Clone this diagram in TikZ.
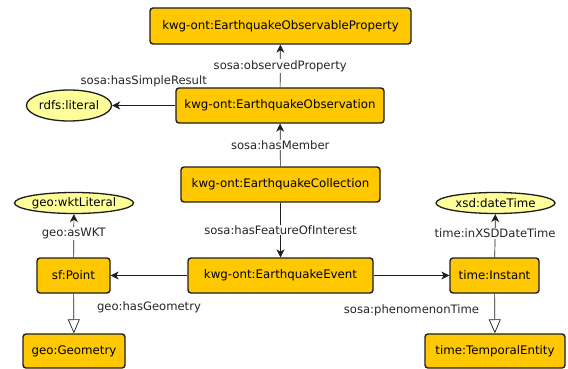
\documentclass[tikz,border=0pt]{standalone}
\usepackage{fontspec}
\setmainfont{DejaVu Sans}
\usetikzlibrary{arrows.meta,shapes.geometric}
\definecolor{cls}{RGB}{255,200,0}
\definecolor{lit}{RGB}{255,255,153}
\definecolor{bord}{RGB}{30,30,30}
\tikzset{
  cbox/.style={draw=bord,line width=1.4pt,rounded corners=3pt,fill=cls,inner sep=0pt,font=\fontsize{11.8}{13}\selectfont,text=black},
  lbox/.style={ellipse,draw=bord,line width=1.3pt,fill=lit,inner sep=0pt,font=\fontsize{11.8}{13}\selectfont},
  rel/.style={draw=bord,line width=0.7pt,-{Stealth[length=8pt,width=8pt,inset=2.5pt]}},
  sub/.style={draw=bord,line width=0.7pt,-{Triangle[open,length=14pt,width=12pt,fill=white]}},
  lab/.style={fill=white,inner sep=1pt,font=\fontsize{11.6}{13}\selectfont,text=black!85}
}
\begin{document}
\begin{tikzpicture}[x=1pt,y=-1pt]
\useasboundingbox[fill=white] (0,0) rectangle (568,369);
\node[cbox,minimum width=261,minimum height=36] (eop) at (280.5,26) {kwg-ont:EarthquakeObservableProperty};
\node[cbox,minimum width=208,minimum height=35] (obs) at (280,105.5) {kwg-ont:EarthquakeObservation};
\node[cbox,minimum width=199,minimum height=35] (col) at (280.5,184.5) {kwg-ont:EarthquakeCollection};
\node[cbox,minimum width=185,minimum height=35] (ev) at (280.5,275.5) {kwg-ont:EarthquakeEvent};
\node[cbox,minimum width=73,minimum height=35] (pt) at (73.5,275.5) {sf:Point};
\node[cbox,minimum width=102,minimum height=34] (geom) at (74,351) {geo:Geometry};
\node[cbox,minimum width=89,minimum height=35] (inst) at (494.5,275.5) {time:Instant};
\node[cbox,minimum width=140,minimum height=34] (te) at (495,351) {time:TemporalEntity};
\node[lbox,minimum width=82,minimum height=31] (rl) at (69,105.5) {rdfs:literal};
\node[lbox,minimum width=114,minimum height=21] (wkt) at (74,203) {geo:wktLiteral};
\node[lbox,minimum width=119,minimum height=21] (dt) at (495.5,203) {xsd:dateTime};

\draw[rel] (obs) -- node[lab] {sosa:observedProperty} (eop);
\draw[rel] (col) -- node[lab] {sosa:hasMember} (obs);
\draw[rel] (obs) -- node[lab,yshift=24pt,fill=none] {sosa:hasSimpleResult} (rl);
\draw[rel] (col) -- node[lab] {sosa:hasFeatureOfInterest} (ev);
\draw[rel] (ev) -- node[lab,yshift=-32pt,fill=none] {geo:hasGeometry} (pt);
\draw[rel] (ev) -- node[lab,yshift=-35pt,fill=none] {sosa:phenomenonTime} (inst);
\draw[rel] (pt) -- node[lab,pos=0.55] {geo:asWKT} (wkt);
\draw[rel] (inst) -- node[lab,pos=0.55] {time:inXSDDateTime} (dt);
\draw[sub] (pt) -- (geom);
\draw[sub] (inst) -- (te);
\end{tikzpicture}
\end{document}
